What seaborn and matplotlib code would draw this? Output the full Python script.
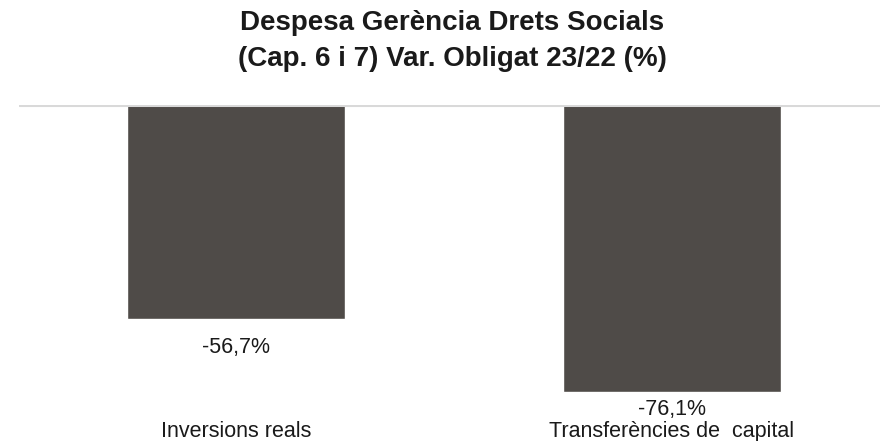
import pandas as pd
import matplotlib.pyplot as plt
import matplotlib.transforms as mtransforms
import seaborn as sns

# Chart data
categories = ["Inversions reals", "Transferències de  capital"]
values = [-56.7, -76.1]
value_labels = ["-56,7%", "-76,1%"]
label_offsets = [-24.5, -16.5]   # points from bar end to label baseline

df = pd.DataFrame({"categoria": categories, "var": values})

sns.set_style("white")
plt.rcParams["font.family"] = ["Liberation Sans", "DejaVu Sans"]

fig = plt.figure(figsize=(8.8, 4.41), dpi=100)
ax = fig.add_axes([19 / 880, 23 / 441, 1 - 19 / 880, 313 / 441])

sns.barplot(data=df, x="categoria", y="var", color="#4f4b48",
            saturation=1, width=0.5, ax=ax)

ax.set_xlim(-0.4977, 1.477)
ax.set_ylim(-83.0, 0)
ax.axhline(0, color="#d9d9d9", lw=2.2, zorder=3)

for i, (v, lab) in enumerate(zip(values, value_labels)):
    ax.annotate(lab, (i, v), xytext=(0, label_offsets[i]),
                textcoords="offset points", ha="center", va="baseline",
                fontsize=15.5, color="#1a1a1a")

# category labels along the bottom edge
trans = mtransforms.blended_transform_factory(ax.transData, fig.transFigure)
for i, cat in enumerate(categories):
    ax.text(i, 1 - 437 / 441, cat, transform=trans,
            ha="center", va="baseline", fontsize=15.5, color="#1a1a1a")

ax.set_xlabel("")
ax.set_ylabel("")
ax.set_yticks([])
ax.set_xticks([])
sns.despine(ax=ax, left=True, bottom=True, top=True, right=True)

fig.text(0.514, 1 - 41 / 441, "Despesa Gerència Drets Socials\n(Cap. 6 i 7) Var. Obligat 23/22 (%)",
         ha="center", va="center", fontsize=20, fontweight="bold",
         color="#1a1a1a", linespacing=1.5)

fig.savefig("out.png", dpi=100)
